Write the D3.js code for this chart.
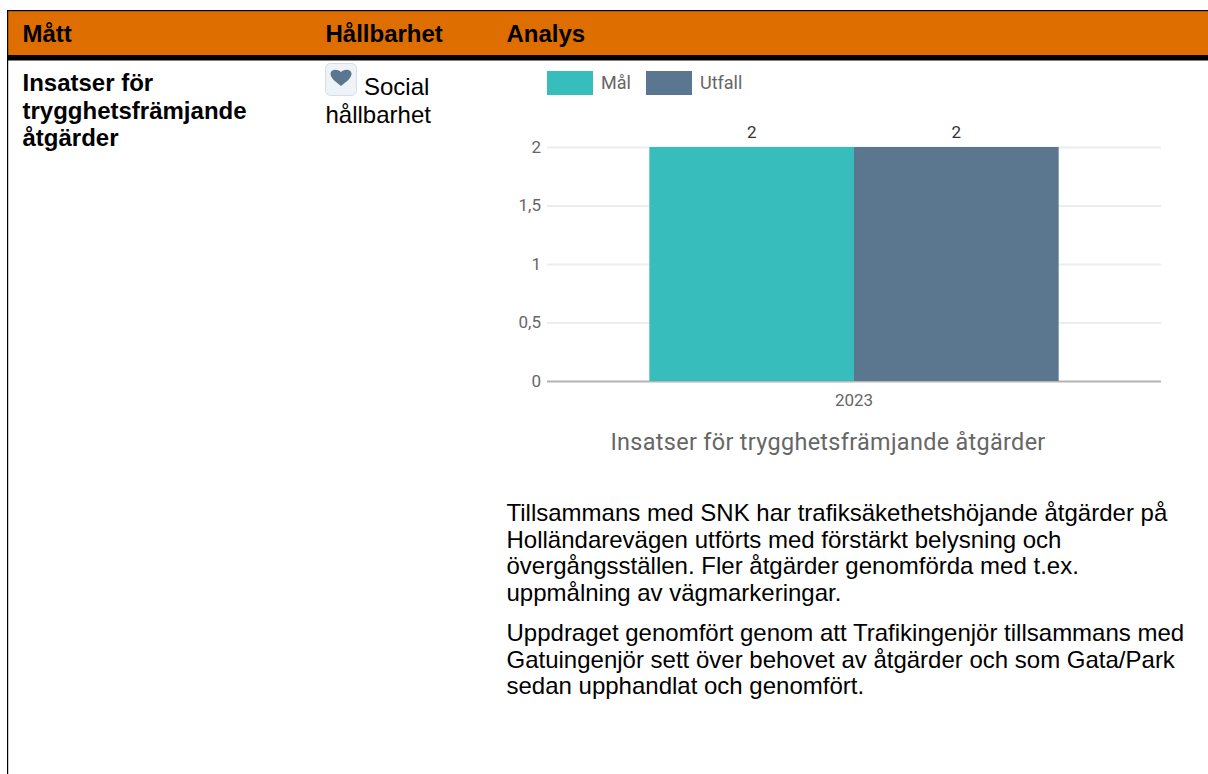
<!DOCTYPE html>
<html><head><meta charset="utf-8">
<script src="https://cdn.jsdelivr.net/npm/d3@7"></script>
<style>html,body{margin:0;padding:0;background:#fff;overflow:hidden}svg{display:block}</style>
</head><body><svg id="c" width="1208" height="774"></svg>
<script>
const headers = ["Mått","Hållbarhet","Analys"];
const measureLines = ["Insatser för","trygghetsfrämjande","åtgärder"];
const sustainLines = ["Social","hållbarhet"];
const years = ["2023"];
const seriesNames = ["Mål","Utfall"];
const seriesValues = [[2],[2]];
const seriesColors = ["#38bdbd","#5b778f"];
const yTicks = [0,0.5,1,1.5,2];
const yTickLabels = ["0","0,5","1","1,5","2"];
const chartTitle = "Insatser för trygghetsfrämjande åtgärder";
const para1 = ["Tillsammans med SNK har trafiksäkethetshöjande åtgärder på","Holländarevägen utförts med förstärkt belysning och","övergångsställen. Fler åtgärder genomförda med t.ex.","uppmålning av vägmarkeringar."];
const para2 = ["Uppdraget genomfört genom att Trafikingenjör tillsammans med","Gatuingenjör sett över behovet av åtgärder och som Gata/Park","sedan upphandlat och genomfört."];

const svg = d3.select("#c");
const AR = "Liberation Sans, Arial, sans-serif", RB = "Roboto, sans-serif";

// table frame
svg.append("rect").attr("x",8).attr("y",11).attr("width",1200).attr("height",44).attr("fill","#de6e00");
svg.append("rect").attr("x",7).attr("y",10).attr("width",1201).attr("height",1.2).attr("fill","#000");
svg.append("rect").attr("x",7).attr("y",55).attr("width",1201).attr("height",5.5).attr("fill","#000");
svg.append("rect").attr("x",7).attr("y",10).attr("width",1.2).attr("height",764).attr("fill","#000");

function lines(cls, data, x, y0, lh, size, weight){
  svg.selectAll("text."+cls).data(data).join("text").attr("class",cls)
    .attr("x",typeof x==="function"?x:()=>x).attr("y",(d,i)=>y0+i*lh).text(d=>d)
    .attr("font-family",AR).attr("font-weight",weight).attr("font-size",size).attr("fill","#000");
}
const headX = [22.5,325.5,506.5];
lines("h",headers,(d,i)=>headX[i],42,0,24,"bold");
lines("m",measureLines,22.5,91,27.7,24,"bold");

// heart icon
const icon = svg.append("g").attr("transform","translate(325,63)");
icon.append("rect").attr("x",0.5).attr("y",0.5).attr("width",31).attr("height",32).attr("rx",5)
  .attr("fill","#eef3f7").attr("stroke","#d3dee6");
icon.append("path").attr("d","M16 23 C11 19 5.5 15.5 5.5 10.5 C5.5 6.5 12 5 16 9 C20 5 26.5 6.5 26.5 10.5 C26.5 15.5 21 19 16 23 Z").attr("fill",seriesColors[1]);
lines("s",sustainLines,(d,i)=>i?325.5:364,95,27.7,24,"normal");

// chart
const x0 = d3.scaleBand().domain(years).range([547,1161]).paddingInner(0).paddingOuter(0.25);
const x1 = d3.scaleBand().domain(seriesNames).range([0,x0.bandwidth()]);
const y = d3.scaleLinear().domain([0,2]).range([381,147]);

const ga = svg.append("g").attr("transform","translate(547,0)")
  .call(d3.axisLeft(y).tickValues(yTicks).tickFormat((d,i)=>yTickLabels[i]).tickSize(-614).tickPadding(6));
ga.select(".domain").remove();
ga.selectAll(".tick line").attr("stroke",d=>d===0?"#b4b4b4":"#ebeef1").attr("stroke-width",2);
ga.selectAll(".tick text").attr("font-family",RB).attr("font-size",17).attr("fill","#666");

seriesNames.forEach((n,si)=>{
  svg.append("g").selectAll("rect").data(seriesValues[si]).join("rect")
    .attr("x",(d,i)=>x0(years[i])+x1(n)).attr("width",x1.bandwidth())
    .attr("y",d=>y(d)).attr("height",d=>y(0)-y(d)).attr("fill",seriesColors[si]);
  svg.append("g").selectAll("text").data(seriesValues[si]).join("text")
    .attr("x",(d,i)=>x0(years[i])+x1(n)+x1.bandwidth()/2).attr("y",d=>y(d)-9.5)
    .attr("text-anchor","middle").attr("font-family",RB).attr("font-size",17).attr("fill","#333").text(d=>d);
});

const gx = svg.append("g").attr("transform","translate(0,381)")
  .call(d3.axisBottom(x0).tickSize(0).tickPadding(13));
gx.select(".domain").remove();
gx.selectAll("text").attr("font-family",RB).attr("font-size",17).attr("fill","#666");

// legend
const legendX = [547,646];
seriesNames.forEach((n,i)=>{
  svg.append("rect").attr("x",legendX[i]).attr("y",71).attr("width",46).attr("height",24).attr("fill",seriesColors[i]);
  svg.append("text").attr("x",legendX[i]+54).attr("y",89).text(n)
    .attr("font-family",RB).attr("font-size",18).attr("fill","#666");
});

svg.append("text").attr("x",828).attr("y",450).attr("text-anchor","middle").text(chartTitle)
  .attr("font-family",RB).attr("font-size",23.4).attr("letter-spacing",0.33).attr("fill","#666");

lines("p1",para1,506.5,521,26.6,24,"normal");
lines("p2",para2,506.5,641,26.6,24,"normal");
</script></body></html>
